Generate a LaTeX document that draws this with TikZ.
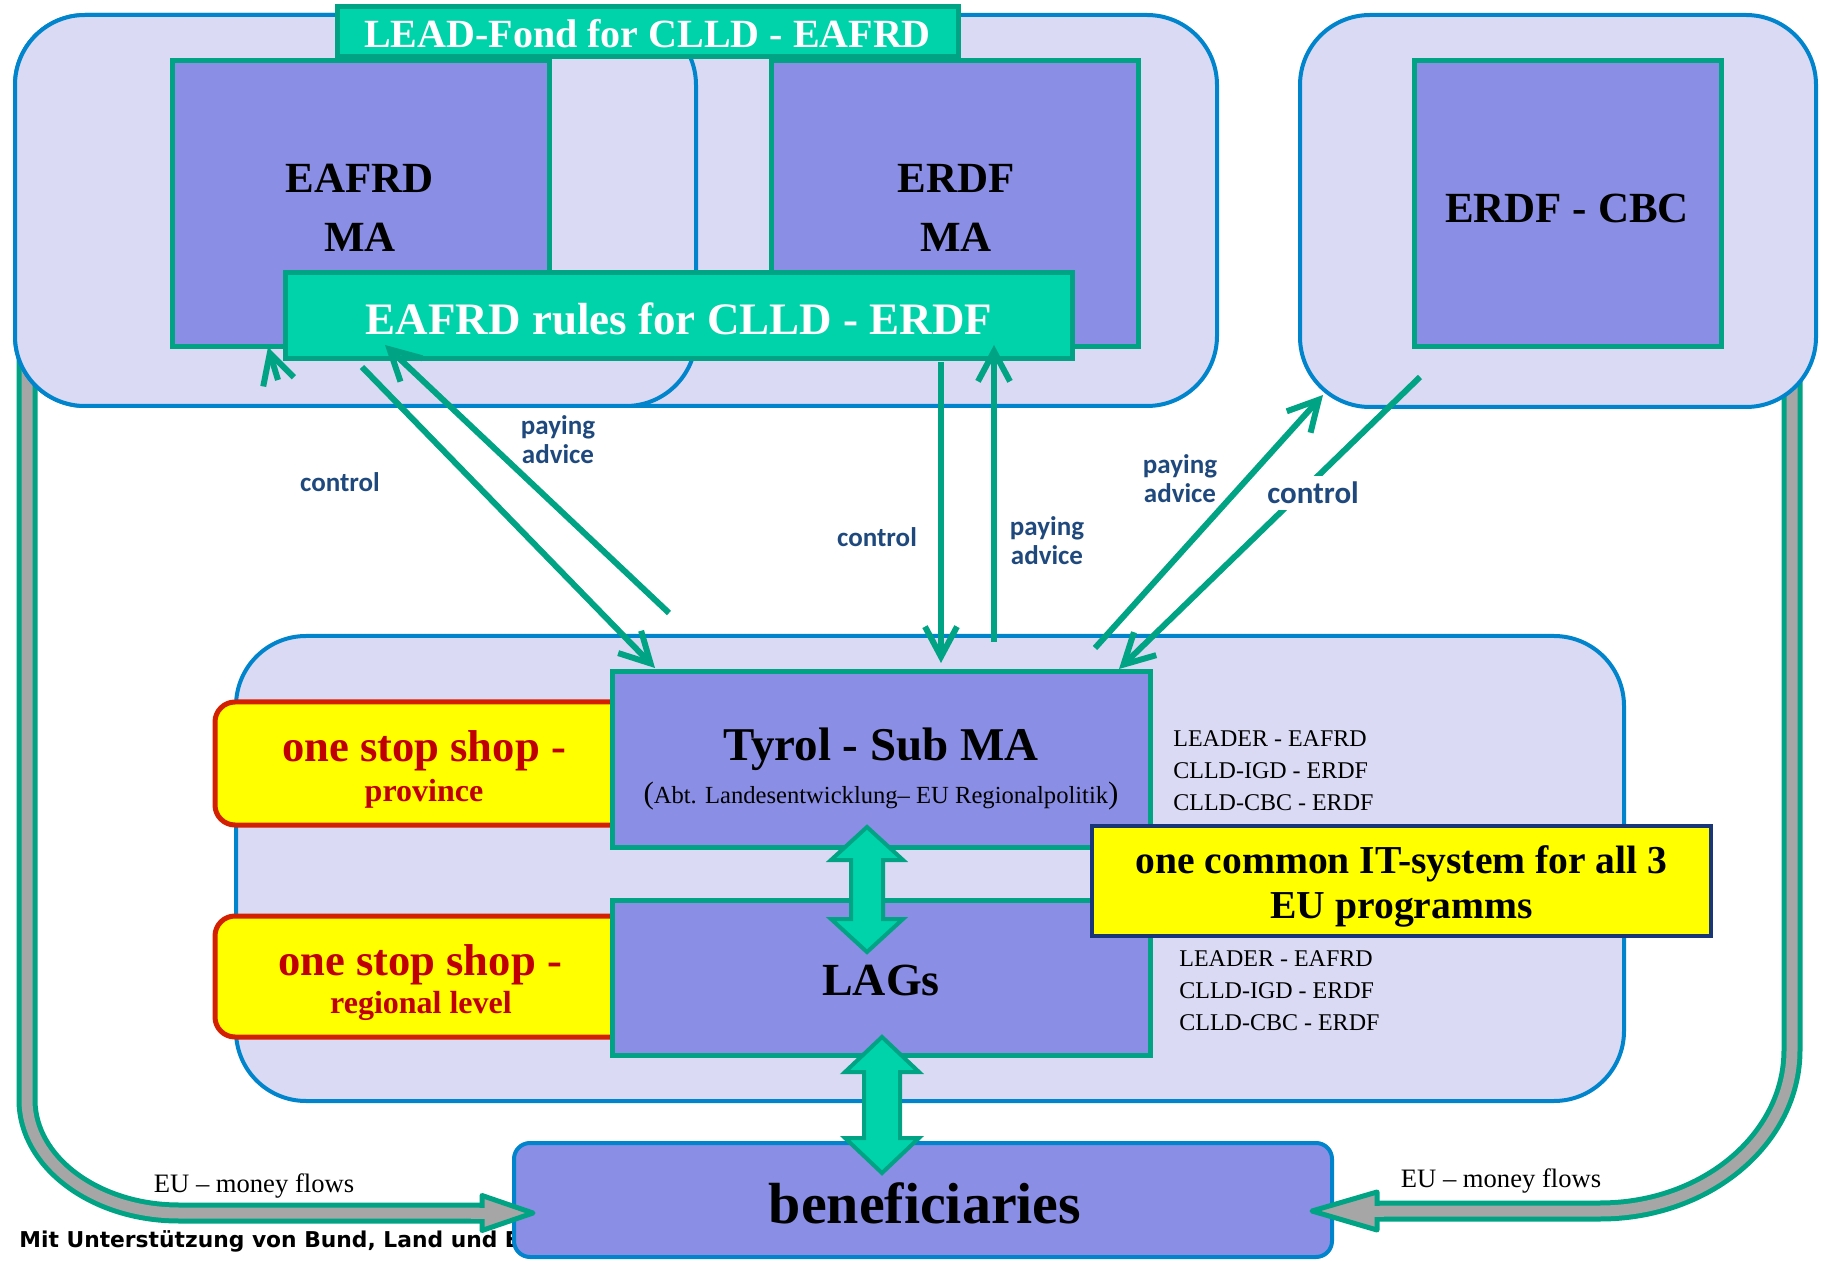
\documentclass[tikz,border=0pt]{standalone}
\usepackage{fontspec}
\setmainfont{Liberation Serif}
\newfontfamily\labfont{Carlito}
\newfontfamily\mitfont{DejaVu Sans}
\usetikzlibrary{arrows.meta}
\definecolor{lav}{RGB}{218,218,245}
\definecolor{cblue}{RGB}{0,132,204}
\definecolor{purp}{RGB}{138,142,228}
\definecolor{tealb}{RGB}{0,163,131}
\definecolor{tealf}{RGB}{0,210,170}
\definecolor{yel}{RGB}{255,255,0}
\definecolor{redb}{RGB}{210,32,0}
\definecolor{redt}{RGB}{192,0,0}
\definecolor{navy}{RGB}{25,55,120}
\definecolor{grayf}{RGB}{166,166,166}
\definecolor{labblue}{RGB}{31,73,125}
\pgfdeclarelayer{shafts}
\pgfdeclarelayer{topl}
\pgfsetlayers{shafts,main,topl}
\begin{document}
\begin{tikzpicture}[x=0.5pt,y=-0.5pt,
 nbox/.style={inner sep=0pt,outer sep=0pt},
 container/.style={nbox,draw=cblue,fill=lav,line width=2pt,rounded corners=35pt},
 mabox/.style={nbox,draw=tealb,fill=purp,line width=2.5pt},
 matext/.style={inner sep=0pt,anchor=base,font=\bfseries\fontsize{21.5}{26}\selectfont},
 tealbox/.style={nbox,draw=tealb,fill=tealf,line width=2.5pt},
 tealtext/.style={inner sep=0pt,anchor=base,text=white,font=\bfseries\fontsize{20}{24}\selectfont},
 shopbox/.style={nbox,draw=redb,fill=yel,line width=2.5pt,rounded corners=10pt},
 shoptext/.style={text=redt,font=\bfseries\fontsize{22.3}{26}\selectfont,inner sep=0pt,anchor=base},
 shopsub/.style={text=redt,font=\bfseries\fontsize{16}{19}\selectfont,inner sep=0pt,anchor=base},
 ittext/.style={inner sep=0pt,anchor=base,font=\bfseries\fontsize{19.8}{22.5}\selectfont},
 thinarrow/.style={draw=tealb,line width=3pt,-{Straight Barb[length=15pt,width=16pt]}},
 lab/.style={text=labblue,font=\labfont\bfseries\fontsize{13.5}{14.5}\selectfont,align=center,inner sep=1pt},
 fat/.style={draw=tealb,fill=tealf,line width=2pt,line join=miter},
 money/.style={draw=grayf,line width=5.5pt,preaction={draw=tealb,line width=10.5pt}},
 moneyhead/.style={draw=tealb,fill=grayf,line width=2.5pt,line join=round},
 moneylab/.style={font=\fontsize{13.3}{16}\selectfont,inner sep=0pt,anchor=base},
 listtext/.style={font=\fontsize{12}{16}\selectfont,align=left,inner sep=0pt,anchor=north west}
]
\useasboundingbox (0,0) rectangle (1821,1261);

% containers
\node[container,minimum width=601pt,minimum height=195.5pt] (boxB) at (616,210.5) {};
\node[container,minimum width=340.5pt,minimum height=195.5pt] (boxA) at (355.5,210.5) {};
\node[container,minimum width=258pt,minimum height=196pt] (boxC) at (1558,211) {};
\node[container,minimum width=694pt,minimum height=232.5pt] (boxD) at (930,868.5) {};

% footer text (partly hidden by the beneficiaries box)
\node[anchor=base west,inner sep=0pt,font=\mitfont\bfseries\fontsize{10.9}{13}\selectfont] (mit) at (19,1247) {Mit Unterstützung von Bund, Land und E};

% managing authorities
\node[mabox,minimum width=188.5pt,minimum height=143pt] (eafrd) at (360.5,204) {};
\node[matext] (eafrd1) at (360,193) {EAFRD};
\node[matext] (eafrd2) at (360,252) {MA};
\node[mabox,minimum width=183.5pt,minimum height=143pt] (erdf) at (954.5,204) {};
\node[matext] (erdf1) at (956,193) {ERDF};
\node[matext] (erdf2) at (956,252) {MA};
\node[mabox,minimum width=153.5pt,minimum height=143pt] (cbc) at (1567.5,204) {};
\node[matext] (cbc1) at (1567,223) {ERDF - CBC};

\coordinate (s3) at (278,380);
\draw[thinarrow] (s3) -- ([shift={(96,0)}]eafrd.south west);

\node[tealbox,minimum width=310.5pt,minimum height=25pt] (lead) at (647.5,32) {};
\node[tealtext] (leadt) at (647.5,48) {LEAD-Fond for CLLD - EAFRD};
\node[tealbox,minimum width=393.5pt,minimum height=43pt] (rules) at (678.5,316) {};
\node[tealtext,font=\bfseries\fontsize{22.5}{26}\selectfont] (rulest) at (679,335) {EAFRD rules for CLLD - ERDF};

% one stop shops
\node[shopbox,minimum width=212.5pt,minimum height=61.5pt] (shop1) at (427.5,763.5) {};
\node[shoptext] (shop1a) at (424,762) {one stop shop -};
\node[shopsub] (shop1b) at (424,801) {province};
\node[shopbox,minimum width=212.5pt,minimum height=60.5pt] (shop2) at (427.5,976.5) {};
\node[shoptext] (shop2a) at (420,975) {one stop shop -};
\node[shopsub] (shop2b) at (421,1013) {regional level};

% Tyrol and LAGs
\node[mabox,minimum width=269pt,minimum height=87.5pt] (tyrol) at (881,759.5) {};
\node[anchor=base,inner sep=0pt,font=\bfseries\fontsize{23.5}{28}\selectfont] (tyrolt) at (881,760) {Tyrol - Sub MA};
\node[anchor=base,inner sep=0pt,font=\fontsize{12.3}{15}\selectfont] (tyrols) at (881,803) {{\fontsize{15.5}{15}\selectfont(}Abt. Landesentwicklung– EU Regionalpolitik{\fontsize{15.5}{15}\selectfont)}};
\node[mabox,minimum width=269pt,minimum height=77.5pt] (lags) at (881,977.5) {};
\node[matext,font=\bfseries\fontsize{23}{27}\selectfont] (lagst) at (881,995) {LAGs};

% IT system
\node[nbox,draw=navy,fill=yel,line width=2pt,minimum width=309.5pt,minimum height=55pt] (it) at (1401.5,881) {};
\node[ittext] (it1) at (1401.5,873) {one common IT-system for all 3};
\node[ittext] (it2) at (1401.5,918) {EU programms};

\node[listtext] (list1) at (1173,730) {LEADER - EAFRD\\CLLD-IGD - ERDF\\CLLD-CBC - ERDF};
\node[listtext] (list2) at (1179,950) {LEADER - EAFRD\\CLLD-IGD - ERDF\\CLLD-CBC - ERDF};

% thin arrows
\coordinate (s1) at (362,367);
\draw[thinarrow] (s1) -- ([shift={(43,-4)}]tyrol.north west);
\coordinate (s2) at (669,613);
\draw[thinarrow] (s2) -- ([shift={(100,-14)}]rules.south west);
\coordinate (s4) at (941,362);
\draw[thinarrow] (s4) -- ([shift={(329,-9)}]tyrol.north west);
\coordinate (s5) at (994,642);
\draw[thinarrow] (s5) -- ([shift={(-78,-14)}]rules.south east);
\coordinate (s6) at (1095,648);
\draw[thinarrow] (s6) -- ([shift={(23,-12)}]boxC.south west);
\coordinate (s7) at (1420,377);
\draw[thinarrow] (s7) -- ([shift={(-31,-3)}]tyrol.north east);

% labels
\node[lab] (l1) at (558,440) {paying\\advice};
\node[lab] (l2) at (340,482) {control};
\node[lab] (l3) at (877,537) {control};
\node[lab] (l4) at (1047,541) {paying\\advice};
\node[lab] (l5) at (1180,479) {paying\\advice};
\node[lab,fill=white,font=\labfont\bfseries\fontsize{15.5}{17}\selectfont,inner sep=3pt] (l6) at (1313,493) {control};

% fat double arrow Tyrol <-> LAGs
\draw[fat] ([shift={(-14,-20)}]tyrol.south) -- ++(36,33) -- ++(-20,0) -- ++(0,59) -- ++(20,0) -- ++(-36,33) -- ++(-36,-33) -- ++(20,0) -- ++(0,-59) -- ++(-20,0) -- cycle;

% beneficiaries
\node[nbox,draw=cblue,fill=purp,line width=2pt,rounded corners=8pt,minimum width=409pt,minimum height=57pt] (bene) at (923,1200) {};
\node[inner sep=0pt,anchor=base,font=\bfseries\fontsize{29}{34}\selectfont] (benet) at (925,1223) {beneficiaries};

% fat double arrow LAGs <-> beneficiaries
\draw[fat] ([shift={(1,-18)}]lags.south) -- ++(37,35) -- ++(-19,0) -- ++(0,66) -- ++(19,0) -- ++(-37,35) -- ++(-37,-35) -- ++(19,0) -- ++(0,-66) -- ++(-19,0) -- cycle;

% EU money flows
\coordinate (mltip) at ([shift={(19,13)}]bene.west);
\coordinate (mrtip) at ([shift={(-20,11)}]bene.east);
\coordinate (mlstart) at (27,340);
\coordinate (mrstart) at (1792,360);
\begin{pgfonlayer}{shafts}
\draw[money] (mlstart) -- (27,1100) .. controls (27,1162) and (95,1213) .. (179,1213) -- ([shift={(-43,0)}]mltip);
\draw[money] (mrstart) -- (1792,1050) .. controls (1792,1139) and (1706,1211) .. (1600,1211) -- ([shift={(58,0)}]mrtip);
\end{pgfonlayer}
\begin{pgfonlayer}{topl}
\draw[moneyhead] (mltip) -- ++(-51,-17.5) -- ++(0,35) -- cycle;
\draw[grayf,line width=5.5pt] ([shift={(-62,0)}]mltip) -- ([shift={(-44,0)}]mltip);
\draw[moneyhead] (mrtip) -- ++(65,-19) -- ++(0,38) -- cycle;
\draw[grayf,line width=5.5pt] ([shift={(56,0)}]mrtip) -- ([shift={(72,0)}]mrtip);
\end{pgfonlayer}
\node[moneylab] (eum1) at (254,1192) {EU – money flows};
\node[moneylab] (eum2) at (1501,1187) {EU – money flows};
\end{tikzpicture}
\end{document}
